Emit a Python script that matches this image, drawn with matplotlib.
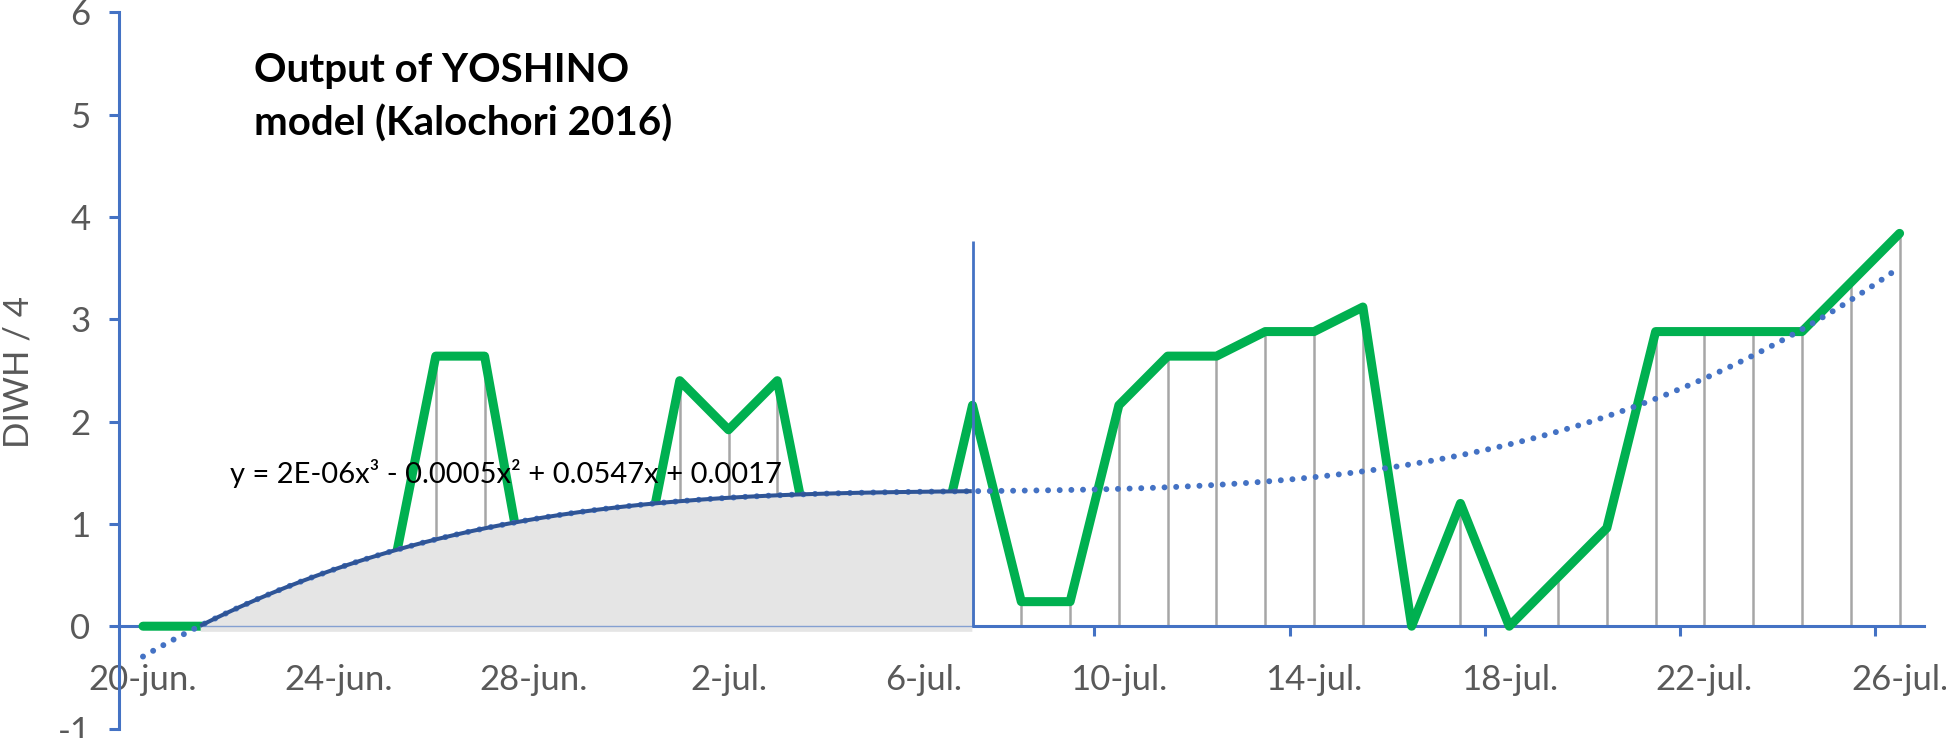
import numpy as np
import matplotlib
matplotlib.use("Agg")
import matplotlib.pyplot as plt

plt.rcParams['font.family'] = ['Lato', 'DejaVu Sans']

# ---------------- data ----------------
# day index 0 = 20-jun., one point per day up to 26-jul. (index 36)
days = list(range(37))
diwh = [0.0, 0.0, 0.0, 0.0, 0.0, 0.24, 2.64, 2.64, 0.0, 0.0,
        0.0, 2.40, 1.92, 2.40, 0.0, 0.0, 0.12, 2.16, 0.24, 0.24,
        2.16, 2.64, 2.64, 2.88, 2.88, 3.12, 0.0, 1.20, 0.0, 0.48,
        0.96, 2.88, 2.88, 2.88, 2.88, 3.36, 3.84]

tick_days = [0, 4, 8, 12, 16, 20, 24, 28, 32, 36]
tick_labels = ["20-jun.", "24-jun.", "28-jun.", "2-jul.", "6-jul.",
               "10-jul.", "14-jul.", "18-jul.", "22-jul.", "26-jul."]
minor_tick_days = [19.5, 23.5, 27.5, 31.5, 35.5]
yticks = [-1, 0, 1, 2, 3, 4, 5, 6]

model_end_day = 17          # 7-jul.
vline_top = 3.77
equation = "y = 2E-06x\u00b3 - 0.0005x\u00b2 + 0.0547x + 0.0017"
title_lines = ["Output of YOSHINO", "model (Kalochori 2016)"]
ylabel = "DIWH / 4"

# ---------------- styling ----------------
BLUE = "#4472C4"
DARK_BLUE = "#2F5597"
GREEN = "#00B050"
GREY_TXT = "#595959"
DROP = "#A6A6A6"
FILL = "#E5E5E5"

W, H = 1946, 738
fig = plt.figure(figsize=(W / 100, H / 100), dpi=100)
ax = fig.add_axes([118.6 / W, 9.5 / H, (1924 - 118.6) / W, (728.5 - 12.4) / H])
ax.set_xlim(-0.5, 36.5)
ax.set_ylim(-1, 6)

d = np.array(days, dtype=float)
v = np.array(diwh, dtype=float)

# drop lines
ax.vlines(d, 0, v, colors=DROP, linewidth=1.8, zorder=2)
# data line
ax.plot(d, v, color=GREEN, linewidth=6.5, solid_joinstyle='round',
        solid_capstyle='round', zorder=3)

# polynomial (order 3) trend line of the series
coef = np.polyfit(d, v, 3)
tt = np.linspace(d[0], d[-1], 800)
trend = np.polyval(coef, tt)

# model output area (trend up to 7-jul.)
mask = (tt <= model_end_day) & (trend >= 0)
ax.fill_between(tt[mask], -0.05, trend[mask], color=FILL, linewidth=0, zorder=4)
ax.plot([tt[mask][0], model_end_day], [0, 0], color=BLUE, linewidth=1.0,
        alpha=0.6, zorder=4.2)
ax.plot(tt, trend, color=BLUE, linewidth=4.3, linestyle=(0, (0.001, 1.95)),
        dash_capstyle='round', zorder=5)
ax.plot(tt[mask], trend[mask], color=DARK_BLUE, linewidth=2.9,
        solid_capstyle='butt', zorder=6)
ax.vlines([model_end_day], 0, vline_top, colors=BLUE, linewidth=2.0, zorder=6)

# axes styling
for s in ['top', 'right']:
    ax.spines[s].set_visible(False)
ax.spines['left'].set_color(BLUE)
ax.spines['left'].set_linewidth(2.2)
ax.spines['bottom'].set_color(BLUE)
ax.spines['bottom'].set_linewidth(2.2)
ax.spines['bottom'].set_position(('data', 0))

ax.set_yticks(yticks)
ax.set_yticklabels([str(y) for y in yticks])
ax.tick_params(axis='y', direction='out', length=7.2, width=2.2, color=BLUE,
               labelcolor=GREY_TXT, labelsize=25, pad=13)
ax.set_xticks(tick_days)
ax.set_xticklabels(tick_labels)
ax.set_xticks(minor_tick_days, minor=True)
ax.tick_params(axis='x', which='major', length=0, labelcolor=GREY_TXT,
               labelsize=25, pad=27)
ax.tick_params(axis='x', which='minor', direction='out', length=7.2, width=2.2,
               color=BLUE)

fig.text(19 / W, 1 - 372 / H, ylabel, rotation=90, ha='center', va='center',
         color=GREY_TXT, fontsize=25)

fig.text(254 / W, 1 - 82 / H, title_lines[0], ha='left', va='baseline',
         fontsize=29, fontweight='bold', color='black')
fig.text(254 / W, 1 - 136 / H, title_lines[1], ha='left', va='baseline',
         fontsize=29, fontweight='bold', color='black')

fig.text(230 / W, 1 - 483 / H, equation, ha='left', va='baseline',
         fontsize=21, color='black', zorder=10)

fig.savefig("out.png", dpi=100)
